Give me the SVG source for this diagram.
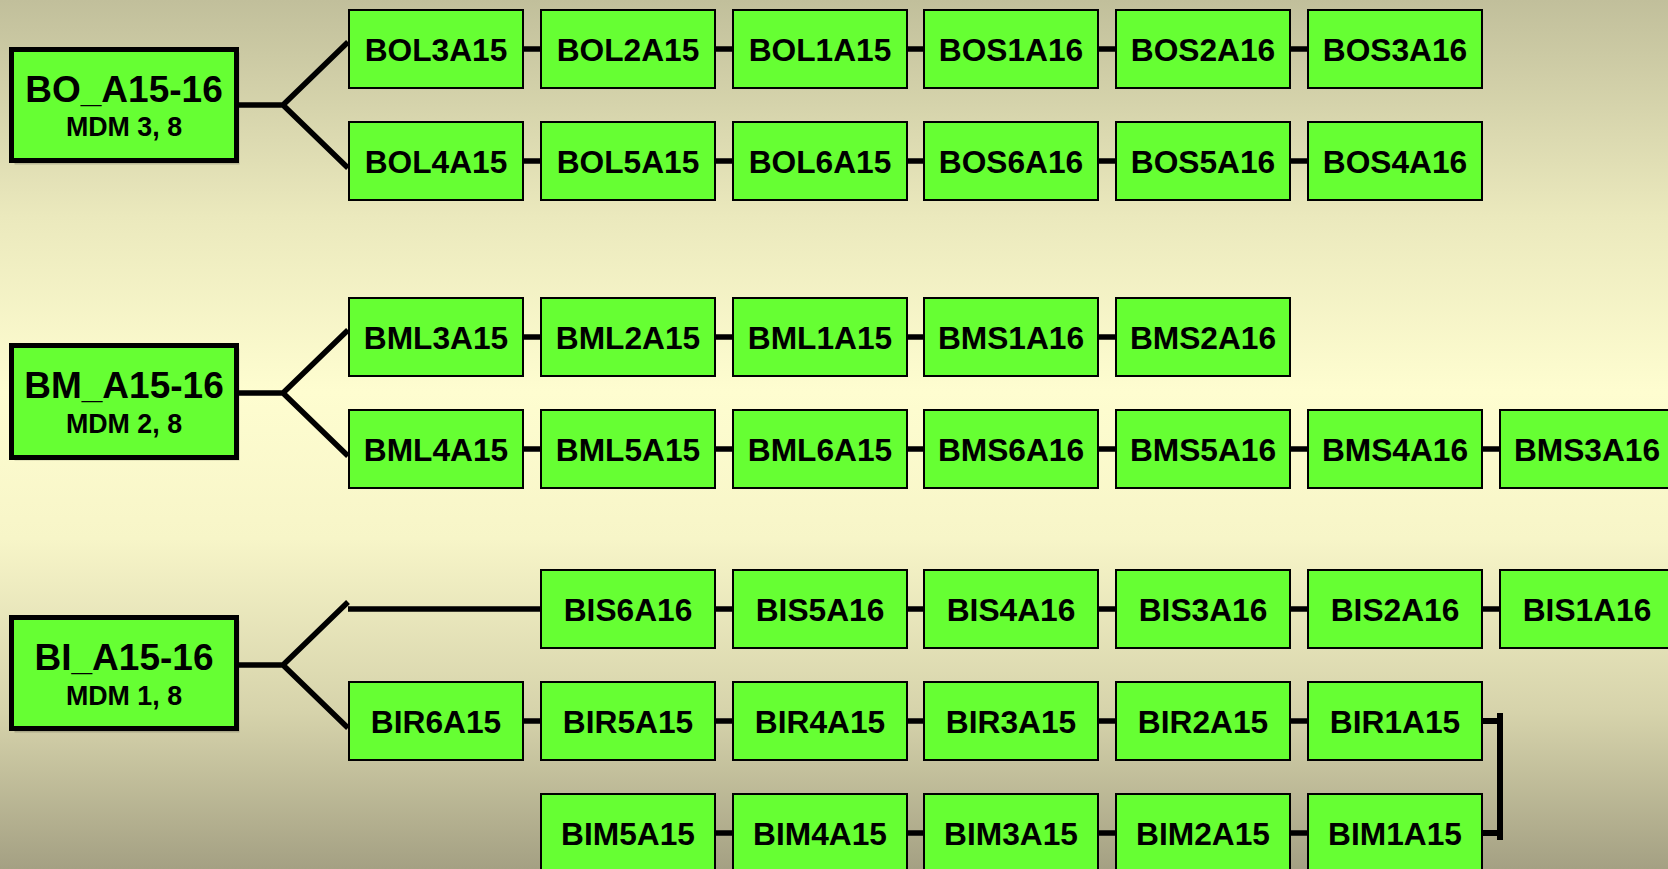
<svg xmlns="http://www.w3.org/2000/svg" width="1668" height="869" viewBox="0 0 1668 869">
<defs>
<linearGradient id="bg" x1="0" y1="0" x2="0" y2="1">
<stop offset="0" stop-color="#c1bf9b"/>
<stop offset="0.25" stop-color="#ebe9bd"/>
<stop offset="0.45" stop-color="#fefdd0"/>
<stop offset="0.62" stop-color="#f7f5c8"/>
<stop offset="0.82" stop-color="#d6d3ab"/>
<stop offset="1" stop-color="#a4a083"/>
</linearGradient>
</defs>
<style>
.n rect{fill:#66ff33;stroke:#000;stroke-width:2}
.n text{font-family:"Liberation Sans",Arial,sans-serif;font-weight:bold;font-size:31.7px;fill:#000;text-anchor:middle}
.m rect.b{fill:#66ff33;stroke:#000;stroke-width:5}
.m rect.s{fill:#000;opacity:0.18}
.m text{font-family:"Liberation Sans",Arial,sans-serif;font-weight:bold;fill:#000;text-anchor:middle}
.m .t{font-size:37px}
.m .u{font-size:26.8px}
#connectors path{fill:none;stroke:#000;stroke-width:5.5}
</style>
<rect x="0" y="0" width="1668" height="869" fill="url(#bg)"/>

<g id="connectors">
<path d="M238,105 H283 L348,42 M283,105 L348,168"/>
<path d="M239,393 H283 L348,330 M283,393 L348,456"/>
<path d="M239,665 H283 L348,602 M283,665 L348,728"/>
<path d="M348,609 H541"/>
<path d="M523,49 H541 M715,49 H733 M907,49 H924 M1098,49 H1116 M1290,49 H1308"/>
<path d="M523,161 H541 M715,161 H733 M907,161 H924 M1098,161 H1116 M1290,161 H1308"/>
<path d="M523,337 H541 M715,337 H733 M907,337 H924 M1098,337 H1116"/>
<path d="M523,449 H541 M715,449 H733 M907,449 H924 M1098,449 H1116 M1290,449 H1308 M1482,449 H1500"/>
<path d="M715,609 H733 M907,609 H924 M1098,609 H1116 M1290,609 H1308 M1482,609 H1500"/>
<path d="M523,721 H541 M715,721 H733 M907,721 H924 M1098,721 H1116 M1290,721 H1308"/>
<path d="M715,833 H733 M907,833 H924 M1098,833 H1116 M1290,833 H1308"/>
<path d="M1482,721 H1500 M1482,833 H1500 M1500,713 V840" style="stroke-width:6"/>
</g>

<g id="BO_A15-16" class="m"><rect class="s" x="14.5" y="52.5" width="225" height="112"/><rect class="b" x="11.5" y="49.5" width="225" height="111"/><text class="t" x="124" y="102">BO_A15-16</text><text class="u" x="124" y="136">MDM 3, 8</text></g>
<g id="BM_A15-16" class="m"><rect class="s" x="14.5" y="348.5" width="225" height="112"/><rect class="b" x="11.5" y="345.5" width="225" height="112"/><text class="t" x="124" y="398">BM_A15-16</text><text class="u" x="124" y="433">MDM 2, 8</text></g>
<g id="BI_A15-16" class="m"><rect class="s" x="14.5" y="620.5" width="225" height="112"/><rect class="b" x="11.5" y="617.5" width="225" height="111"/><text class="t" x="124" y="670">BI_A15-16</text><text class="u" x="124" y="705">MDM 1, 8</text></g>

<g id="BOL3A15" class="n"><rect x="349" y="10" width="174" height="78"/><text x="436" y="60.5">BOL3A15</text></g>
<g id="BOL2A15" class="n"><rect x="541" y="10" width="174" height="78"/><text x="628" y="60.5">BOL2A15</text></g>
<g id="BOL1A15" class="n"><rect x="733" y="10" width="174" height="78"/><text x="820" y="60.5">BOL1A15</text></g>
<g id="BOS1A16" class="n"><rect x="924" y="10" width="174" height="78"/><text x="1011" y="60.5">BOS1A16</text></g>
<g id="BOS2A16" class="n"><rect x="1116" y="10" width="174" height="78"/><text x="1203" y="60.5">BOS2A16</text></g>
<g id="BOS3A16" class="n"><rect x="1308" y="10" width="174" height="78"/><text x="1395" y="60.5">BOS3A16</text></g>

<g id="BOL4A15" class="n"><rect x="349" y="122" width="174" height="78"/><text x="436" y="172.5">BOL4A15</text></g>
<g id="BOL5A15" class="n"><rect x="541" y="122" width="174" height="78"/><text x="628" y="172.5">BOL5A15</text></g>
<g id="BOL6A15" class="n"><rect x="733" y="122" width="174" height="78"/><text x="820" y="172.5">BOL6A15</text></g>
<g id="BOS6A16" class="n"><rect x="924" y="122" width="174" height="78"/><text x="1011" y="172.5">BOS6A16</text></g>
<g id="BOS5A16" class="n"><rect x="1116" y="122" width="174" height="78"/><text x="1203" y="172.5">BOS5A16</text></g>
<g id="BOS4A16" class="n"><rect x="1308" y="122" width="174" height="78"/><text x="1395" y="172.5">BOS4A16</text></g>

<g id="BML3A15" class="n"><rect x="349" y="298" width="174" height="78"/><text x="436" y="348.5">BML3A15</text></g>
<g id="BML2A15" class="n"><rect x="541" y="298" width="174" height="78"/><text x="628" y="348.5">BML2A15</text></g>
<g id="BML1A15" class="n"><rect x="733" y="298" width="174" height="78"/><text x="820" y="348.5">BML1A15</text></g>
<g id="BMS1A16" class="n"><rect x="924" y="298" width="174" height="78"/><text x="1011" y="348.5">BMS1A16</text></g>
<g id="BMS2A16" class="n"><rect x="1116" y="298" width="174" height="78"/><text x="1203" y="348.5">BMS2A16</text></g>

<g id="BML4A15" class="n"><rect x="349" y="410" width="174" height="78"/><text x="436" y="460.5">BML4A15</text></g>
<g id="BML5A15" class="n"><rect x="541" y="410" width="174" height="78"/><text x="628" y="460.5">BML5A15</text></g>
<g id="BML6A15" class="n"><rect x="733" y="410" width="174" height="78"/><text x="820" y="460.5">BML6A15</text></g>
<g id="BMS6A16" class="n"><rect x="924" y="410" width="174" height="78"/><text x="1011" y="460.5">BMS6A16</text></g>
<g id="BMS5A16" class="n"><rect x="1116" y="410" width="174" height="78"/><text x="1203" y="460.5">BMS5A16</text></g>
<g id="BMS4A16" class="n"><rect x="1308" y="410" width="174" height="78"/><text x="1395" y="460.5">BMS4A16</text></g>
<g id="BMS3A16" class="n"><rect x="1500" y="410" width="174" height="78"/><text x="1587" y="460.5">BMS3A16</text></g>

<g id="BIS6A16" class="n"><rect x="541" y="570" width="174" height="78"/><text x="628" y="620.5">BIS6A16</text></g>
<g id="BIS5A16" class="n"><rect x="733" y="570" width="174" height="78"/><text x="820" y="620.5">BIS5A16</text></g>
<g id="BIS4A16" class="n"><rect x="924" y="570" width="174" height="78"/><text x="1011" y="620.5">BIS4A16</text></g>
<g id="BIS3A16" class="n"><rect x="1116" y="570" width="174" height="78"/><text x="1203" y="620.5">BIS3A16</text></g>
<g id="BIS2A16" class="n"><rect x="1308" y="570" width="174" height="78"/><text x="1395" y="620.5">BIS2A16</text></g>
<g id="BIS1A16" class="n"><rect x="1500" y="570" width="174" height="78"/><text x="1587" y="620.5">BIS1A16</text></g>

<g id="BIR6A15" class="n"><rect x="349" y="682" width="174" height="78"/><text x="436" y="732.5">BIR6A15</text></g>
<g id="BIR5A15" class="n"><rect x="541" y="682" width="174" height="78"/><text x="628" y="732.5">BIR5A15</text></g>
<g id="BIR4A15" class="n"><rect x="733" y="682" width="174" height="78"/><text x="820" y="732.5">BIR4A15</text></g>
<g id="BIR3A15" class="n"><rect x="924" y="682" width="174" height="78"/><text x="1011" y="732.5">BIR3A15</text></g>
<g id="BIR2A15" class="n"><rect x="1116" y="682" width="174" height="78"/><text x="1203" y="732.5">BIR2A15</text></g>
<g id="BIR1A15" class="n"><rect x="1308" y="682" width="174" height="78"/><text x="1395" y="732.5">BIR1A15</text></g>

<g id="BIM5A15" class="n"><rect x="541" y="794" width="174" height="78"/><text x="628" y="844.5">BIM5A15</text></g>
<g id="BIM4A15" class="n"><rect x="733" y="794" width="174" height="78"/><text x="820" y="844.5">BIM4A15</text></g>
<g id="BIM3A15" class="n"><rect x="924" y="794" width="174" height="78"/><text x="1011" y="844.5">BIM3A15</text></g>
<g id="BIM2A15" class="n"><rect x="1116" y="794" width="174" height="78"/><text x="1203" y="844.5">BIM2A15</text></g>
<g id="BIM1A15" class="n"><rect x="1308" y="794" width="174" height="78"/><text x="1395" y="844.5">BIM1A15</text></g>
</svg>
